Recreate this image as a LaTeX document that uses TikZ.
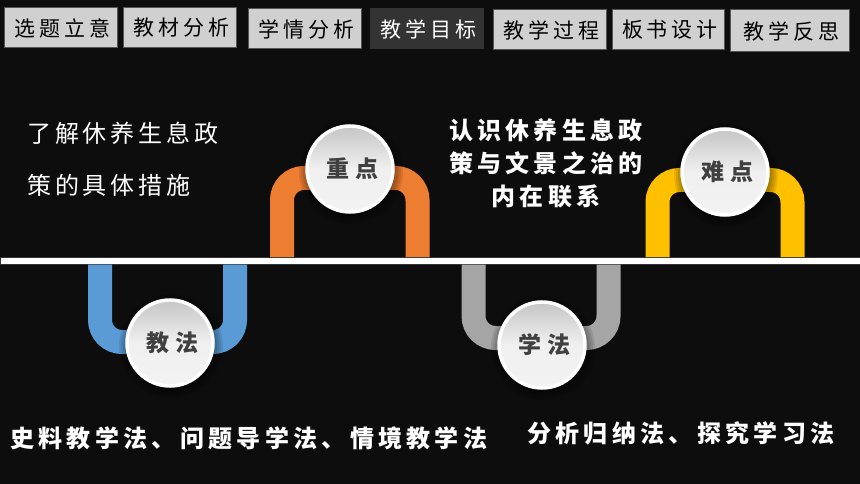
\documentclass[tikz,border=0pt]{standalone}
\usepackage{fontspec}
\newfontfamily\cjk[LetterSpace=16]{Noto Sans CJK SC}
\newfontfamily\cjkb[LetterSpace=18]{Noto Sans CJK SC}
\newfontfamily\cjkc[LetterSpace=22]{Noto Sans CJK SC}
\definecolor{bg}{HTML}{0D0D0D}
\definecolor{tabfill}{HTML}{D0D0D0}
\definecolor{tabdark}{HTML}{333333}
\definecolor{tabline}{HTML}{555555}
\definecolor{arcorange}{HTML}{ED7D31}
\definecolor{arcyellow}{HTML}{FFC000}
\definecolor{arcblue}{HTML}{5B9BD5}
\definecolor{arcgray}{HTML}{A5A5A5}
\definecolor{circtext}{HTML}{404040}
\tikzset{
  tabbox/.style={draw=tabline, line width=1pt, fill=tabfill, text=black, inner sep=0pt,
     font=\cjkb\fontsize{21}{21}\selectfont, execute at begin node={\kern3.8pt}},
  tabcur/.style={tabbox, fill=tabdark, draw=tabdark, text=white},
  arch/.style={line width=24pt, rounded corners=22pt, line cap=butt},
  disc/.style={circle, minimum size=86pt, inner sep=0pt, draw=white, line width=3.5pt,
     top color=gray!45, bottom color=white!95!black, middle color=white!94!black,
     text=circtext, font=\cjkc\bfseries\fontsize{23}{23}\selectfont,
     execute at begin node={\kern5pt}},
  halo/.style={fill=black, opacity=0.09},
  bodytext/.style={text=white, inner sep=0pt, font=\cjk\fontsize{24}{24}\selectfont},
  boldtext/.style={text=white, inner sep=0pt, font=\cjkb\bfseries\fontsize{24}{33}\selectfont, align=center}
}
\newcommand{\softhalo}[1]{%
  \foreach \rr in {44,46,48,50,52}{\fill[halo] #1 circle (\rr pt);}}
\begin{document}
\begin{tikzpicture}[x=1pt,y=-1pt]
\fill[bg] (0,0) rectangle (860,484);
\useasboundingbox (0,0) rectangle (860,484);

% tabs
\node[tabbox, minimum width=113pt, minimum height=40pt] (t1) at (60.5,28) {选题立意};
\node[tabbox, minimum width=113pt, minimum height=40pt] (t2) at (179.5,28) {教材分析};
\node[tabbox, minimum width=113pt, minimum height=40pt] (t3) at (304.5,29) {学情分析};
\node[tabcur, minimum width=113pt, minimum height=40pt] (t4) at (426.5,29) {教学目标};
\node[tabbox, minimum width=113pt, minimum height=40pt] (t5) at (549.5,30) {教学过程};
\node[tabbox, minimum width=112pt, minimum height=40pt] (t6) at (668,30) {板书设计};
\node[tabbox, minimum width=119pt, minimum height=42pt] (t7) at (789.5,31) {教学反思};

% central band
\fill[white, draw=tabdark, line width=1pt] (0,257.5) rectangle (860,264);

% arches above
\draw[arch, arcorange] (282,257) -- (282,178) -- (417.5,178) -- (417.5,257);
\draw[arch, arcyellow] (657.5,257) -- (657.5,180) -- (792.5,180) -- (792.5,257);
% arches below
\draw[arch, arcblue] (100,264.5) -- (100,342) -- (235,342) -- (235,264.5);
\draw[arch, arcgray] (473.5,264.5) -- (473.5,338) -- (608.5,338) -- (608.5,264.5);

% soft shadows and discs
\softhalo{(351,172)}
\softhalo{(726,175)}
\softhalo{(171,346)}
\softhalo{(543,348)}
\node[disc] (zd) at (350,169) {重点};
\node[disc] (nd) at (725,172) {难点};
\node[disc] (jf) at (170,343) {教法};
\node[disc] (xf) at (542,345) {学法};

% texts
\node[bodytext, anchor=west] (l1) at (27,133) {了解休养生息政};
\node[bodytext, anchor=west] (l2) at (27,185) {策的具体措施};
\node[boldtext] (r1) at (546,163) {认识休养生息政\\策与文景之治的\\内在联系};
\node[bodytext, anchor=west, font=\cjkb\bfseries\fontsize{24}{24}\selectfont] (b1) at (10,438) {史料教学法、问题导学法、情境教学法};
\node[bodytext, anchor=west, font=\cjkb\bfseries\fontsize{24}{24}\selectfont] (b2) at (527,433) {分析归纳法、探究学习法};
\end{tikzpicture}
\end{document}
